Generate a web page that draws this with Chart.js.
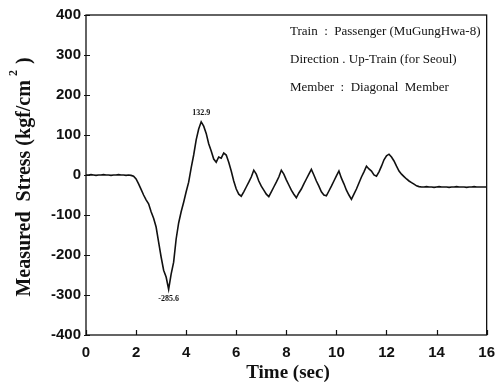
<!DOCTYPE html>
<html>
<head>
<meta charset="utf-8">
<script src="https://cdn.jsdelivr.net/npm/chart.js@4/dist/chart.umd.min.js"></script>
<style>
  html, body { margin: 0; padding: 0; background: #fff; }
  #wrap { width: 504px; height: 388px; position: relative; }
</style>
</head>
<body>
<div id="wrap"><canvas id="c" width="504" height="388"></canvas></div>
<script>
// ---- data ----
const sampleStart = 0;      // sec
const sampleStep = 0.1;     // sec
const stress = [
  0, 0, 1, 0, -1, 0, 0, 1, 0, 0, -1, 0, 0, 1, 0, 0, -1, 0, -1,
  -3, -10, -22, -36, -50, -62, -72, -92, -108, -130,
  -168, -205, -238, -255, -285.6, -248, -218, -160, -120, -92,
  -68, -42, -18, 18, 50, 88, 115, 132.9, 122, 104,
  78, 60, 40, 32, 45, 42, 55, 50, 32, 10,
  -15, -35, -48, -53, -42, -30, -18, -5, 12, 2,
  -15, -28, -38, -48, -54, -42, -30, -18, -5, 12,
  2, -12, -25, -38, -48, -57, -45, -35, -22, -10,
  2, 14, 0, -15, -28, -42, -50, -52, -40, -28,
  -15, -2, 10, -8, -22, -38, -50, -61, -48, -35,
  -20, -5, 8, 22, 15, 10, 0, -3, 8, 22,
  38, 48, 52, 45, 35, 22, 10, 2, -4, -10,
  -15, -19, -23, -27, -29, -30,
  -30, -29, -30, -30, -31, -30, -29, -30, -30, -30,
  -31, -30, -30, -29, -30, -30, -30, -31, -30, -30,
  -29, -30, -30, -30, -30, -30
];
const xTicks = [0, 2, 4, 6, 8, 10, 12, 14, 16];
const yTicks = [-400, -300, -200, -100, 0, 100, 200, 300, 400];
const peakLabels = [
  { text: "132.9", value: 132.9 },
  { text: "-285.6", value: -285.6 }
];
const infoLines = [
  "Train  :  Passenger (MuGungHwa-8)",
  "Direction . Up-Train (for Seoul)",
  "Member  :  Diagonal  Member"
];
const yTitleMain = "Measured  Stress (kgf/cm";
const yTitleSup = "2";
const yTitleEnd = " )";
const xTitle = "Time (sec)";

// ---- build points ----
const points = stress.map((v, i) => ({ x: +(sampleStart + i * sampleStep).toFixed(2), y: v }));

const decor = {
  id: 'decor',
  afterDraw(chart) {
    const ctx = chart.ctx;
    const xs = chart.scales.x, ys = chart.scales.y;
    const a = chart.chartArea;
    ctx.save();
    // frame
    ctx.strokeStyle = '#111';
    ctx.lineWidth = 1.3;
    ctx.strokeRect(a.left, a.top, a.right - a.left, a.bottom - a.top);
    // inward ticks
    ctx.lineWidth = 1.2;
    ctx.beginPath();
    xTicks.forEach(t => {
      const px = Math.round(xs.getPixelForValue(t)) + 0.5;
      ctx.moveTo(px, a.bottom); ctx.lineTo(px, a.bottom - 5);
    });
    yTicks.forEach(t => {
      const py = Math.round(ys.getPixelForValue(t)) + 0.5;
      ctx.moveTo(a.left - 2, py); ctx.lineTo(a.left + 4, py);
    });
    ctx.stroke();

    // peak labels
    ctx.fillStyle = '#111';
    ctx.font = 'bold 8px "Liberation Serif", serif';
    ctx.textAlign = 'center';
    peakLabels.forEach(p => {
      const idx = stress.indexOf(p.value);
      const px = xs.getPixelForValue(points[idx].x);
      const py = ys.getPixelForValue(p.value);
      if (p.value > 0) {
        ctx.textBaseline = 'bottom';
        ctx.fillText(p.text, px, py - 5);
      } else {
        ctx.textBaseline = 'top';
        ctx.fillText(p.text, px, py + 6);
      }
    });

    // info text
    ctx.font = '13px "Liberation Serif", serif';
    ctx.textAlign = 'left';
    ctx.textBaseline = 'middle';
    infoLines.forEach((s, i) => ctx.fillText(s, 290, 32 + i * 28));

    // x title
    ctx.font = 'bold 19px "Liberation Serif", serif';
    ctx.textAlign = 'center';
    ctx.textBaseline = 'middle';
    ctx.fillText(xTitle, 288, 373);

    // y title rotated
    ctx.translate(25, 177);
    ctx.rotate(-Math.PI / 2);
    const f1 = 'bold 20px "Liberation Serif", serif';
    const f2 = 'bold 12px "Liberation Serif", serif';
    ctx.font = f1;
    const w1 = ctx.measureText(yTitleMain).width;
    const w3 = ctx.measureText(yTitleEnd).width;
    ctx.font = f2;
    const w2 = ctx.measureText(yTitleSup).width + 5;
    const total = w1 + w2 + w3;
    let x0 = -total / 2;
    ctx.textAlign = 'left';
    ctx.font = f1;
    ctx.fillText(yTitleMain, x0, 0);
    ctx.font = f2;
    ctx.fillText(yTitleSup, x0 + w1 + 4, -11);
    ctx.font = f1;
    ctx.fillText(yTitleEnd, x0 + w1 + w2, 0);
    ctx.restore();
  }
};

new Chart(document.getElementById('c'), {
  type: 'line',
  data: {
    datasets: [{
      data: points,
      borderColor: '#111',
      borderWidth: 1.6,
      pointRadius: 0,
      tension: 0,
      fill: false
    }]
  },
  options: {
    responsive: false,
    animation: false,
    events: [],
    layout: { padding: { left: 0, right: 14, top: 15, bottom: 0 } },
    plugins: { legend: { display: false }, tooltip: { enabled: false } },
    scales: {
      x: {
        type: 'linear',
        min: 0, max: 16,
        afterBuildTicks: s => { s.ticks = xTicks.map(v => ({ value: v })); },
        afterFit: s => { s.height = 53; },
        grid: { display: false, drawTicks: false },
        border: { display: false },
        ticks: {
          color: '#111',
          font: { family: '"Liberation Sans", Arial, sans-serif', size: 15, weight: 'bold' },
          padding: 9,
          maxRotation: 0
        }
      },
      y: {
        min: -400, max: 400,
        afterBuildTicks: s => { s.ticks = yTicks.map(v => ({ value: v })); },
        afterFit: s => { s.width = 86; },
        grid: { display: false, drawTicks: false },
        border: { display: false },
        ticks: {
          color: '#111',
          font: { family: '"Liberation Sans", Arial, sans-serif', size: 15, weight: 'bold' },
          padding: 5
        }
      }
    }
  },
  plugins: [decor]
});
</script>
</body>
</html>
